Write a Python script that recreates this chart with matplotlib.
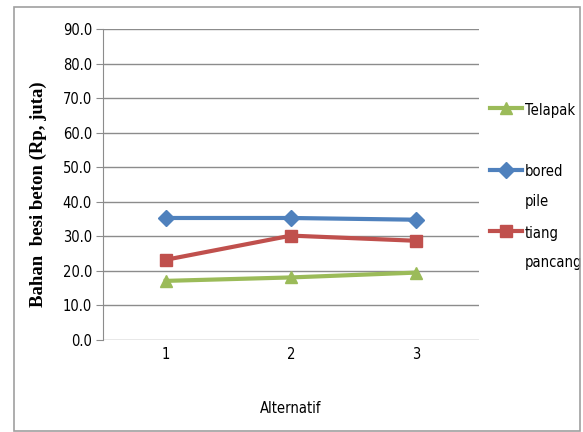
import matplotlib.pyplot as plt
from matplotlib.patches import Rectangle
from matplotlib.font_manager import FontProperties
from matplotlib.legend_handler import HandlerLine2D

# ==============================
# DATA
# ==============================
alternatif = ["1", "2", "3"]
telapak = [17.1, 18.1, 19.5]
bored_pile = [35.3, 35.3, 34.8]
tiang_pancang = [23.2, 30.2, 28.7]

series_labels = ["Telapak", "bored\npile", "tiang\npancang"]
y_ticks = [0, 10, 20, 30, 40, 50, 60, 70, 80, 90]

# ==============================
# STYLE
# ==============================
cond = dict(family="DejaVu Sans", fontstretch="condensed")
grid_col = "#8c8c8c"


class FirstLineHandler(HandlerLine2D):
    # put the legend swatch next to the first line of a 2-line label
    def __init__(self, shift, **kw):
        super().__init__(**kw)
        self.shift = shift

    def create_artists(self, legend, orig_handle, xdescent, ydescent,
                       width, height, fontsize, trans):
        return super().create_artists(legend, orig_handle, xdescent,
                                      ydescent - self.shift, width, height,
                                      fontsize, trans)


fig = plt.figure(figsize=(5.83, 4.32), dpi=100)
ax = fig.add_axes([0.1767, 0.213, 0.645, 0.72])

# outer chart border
fig.patches.append(Rectangle((0.024, 0.003), 0.97, 0.98, transform=fig.transFigure,
                             fill=False, edgecolor="#a0a0a0", linewidth=1.2))

x = range(1, len(alternatif) + 1)
l1, = ax.plot(x, telapak, color="#9BBB59", lw=3, marker="^", ms=9)
l2, = ax.plot(x, bored_pile, color="#4F81BD", lw=3, marker="D", ms=8)
l3, = ax.plot(x, tiang_pancang, color="#C0504D", lw=3, marker="s", ms=8)

ax.set_xlim(0.5, 3.5)
ax.set_ylim(0, 90)
ax.set_yticks(y_ticks)
ax.set_yticklabels([f"{v:.1f}" for v in y_ticks], fontsize=10.5, **cond)
ax.set_xticks(list(x))
ax.set_xticklabels(alternatif, fontsize=10.5, **cond)
ax.tick_params(axis="x", length=0, pad=5)
ax.tick_params(axis="y", length=5, color=grid_col, pad=3)

ax.grid(axis="y", color=grid_col, lw=1)
ax.set_axisbelow(True)
for side in ["top", "right", "bottom"]:
    ax.spines[side].set_visible(False)
ax.spines["left"].set_color(grid_col)

ax.set_xlabel("Alternatif", fontsize=10.5, labelpad=28, **cond)
ax.set_ylabel("Bahan  besi beton (Rp, juta)", family="Liberation Serif",
              fontsize=13.5, fontweight="bold")
ax.yaxis.set_label_coords(-0.15, 0.47)

# every legend label gets 2 lines so the entries are evenly spaced
leg_labels = [s if "\n" in s else s + "\n" for s in series_labels]
handler = FirstLineHandler(26)
leg_font = FontProperties(family="DejaVu Sans", stretch="condensed", size=10.5)
leg = ax.legend([l1, l2, l3], leg_labels, loc="upper left",
                bbox_to_anchor=(0.993, 0.804), frameon=False,
                handlelength=2.2, handletextpad=0.2, labelspacing=1.17,
                prop=leg_font,
                handler_map={l1: handler, l2: handler, l3: handler})
for t in leg.get_texts():
    t.set_fontstretch("condensed")
    t.set_linespacing(2.2)

fig.savefig("out.png", dpi=100)
